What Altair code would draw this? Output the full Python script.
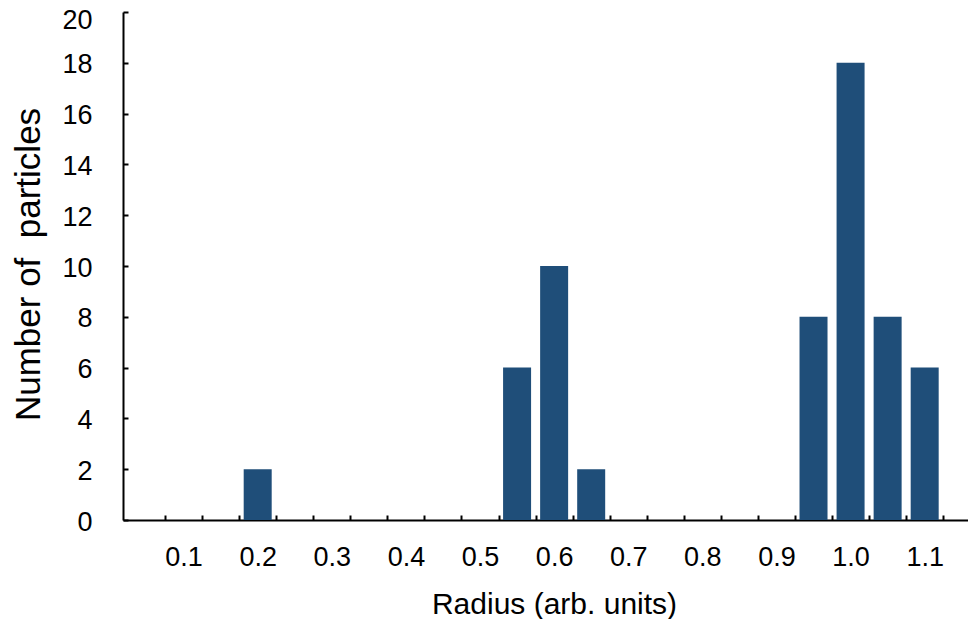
import altair as alt
import pandas as pd

# Histogram bins (bin centres, arb. units) and particle counts
radius = [0.05, 0.10, 0.15, 0.20, 0.25, 0.30, 0.35, 0.40, 0.45, 0.50, 0.55, 0.60,
          0.65, 0.70, 0.75, 0.80, 0.85, 0.90, 0.95, 1.00, 1.05, 1.10, 1.15]
counts = [0, 0, 0, 2, 0, 0, 0, 0, 0, 0, 6, 10,
          2, 0, 0, 0, 0, 0, 8, 18, 8, 6, 0]

# Axis tick positions: bin boundaries (ticks) and label positions
bin_edges = [0.075, 0.125, 0.175, 0.225, 0.275, 0.325, 0.375, 0.425, 0.475, 0.525, 0.575,
             0.625, 0.675, 0.725, 0.775, 0.825, 0.875, 0.925, 0.975, 1.025, 1.075, 1.125]
x_labels = [0.1, 0.2, 0.3, 0.4, 0.5, 0.6, 0.7, 0.8, 0.9, 1.0, 1.1]
y_ticks = [0, 2, 4, 6, 8, 10, 12, 14, 16, 18, 20]

df = pd.DataFrame({"radius": radius, "count": counts})

FONT = "Liberation Sans"

x_axis = alt.Axis(
    values=sorted(bin_edges + x_labels),
    labelExpr="round(datum.value*40) % 2 == 0 ? format(datum.value, '.1f') : ''",
    tickOpacity={"condition": {"test": "round(datum.value*40) % 2 == 1", "value": 1}, "value": 0},
    tickSize={"expr": "-5"},
    labelPadding=29,
    labelOverlap=False,
    labelFlush=False,
    labelBound=False,
    title="Radius (arb. units)",
    titleX=431,
    titleY=93,
    titleAlign="center",
    titleBaseline="alphabetic",
    titleFontSize=30,
    grid=False,
)

y_axis = alt.Axis(
    values=y_ticks,
    tickSize={"expr": "-5"},
    labelPadding=36,
    labelOffset={"condition": {"test": "datum.value == 20", "value": 8}, "value": 2},
    title="Number of \u00a0particles",
    titleX=-84,
    titleY=252,
    titleAngle=-90,
    titleAlign="center",
    titleBaseline="alphabetic",
    titleFontSize=35,
    grid=False,
)

chart = alt.Chart(df).mark_bar(width=28, color="#1f4e79").encode(
    x=alt.X("radius:Q", scale=alt.Scale(domain=[0.025, 1.1517], nice=False, zero=False), axis=x_axis),
    y=alt.Y("count:Q", scale=alt.Scale(domain=[0, 20], nice=False), axis=y_axis, stack=None),
).properties(
    width=845,
    height=508,
    autosize=alt.AutoSizeParams(type="none"),
    padding={"left": 115, "top": 4, "right": 0, "bottom": 99},
    background="white",
).configure_view(
    stroke=None
).configure_axis(
    labelFont=FONT,
    titleFont=FONT,
    labelFontSize=27,
    labelColor="black",
    titleColor="black",
    titleFontWeight="normal",
    domainColor="black",
    domainWidth=2,
    tickColor="black",
    tickWidth=2,
)

chart.save("out.html", embed_options={"renderer": "svg", "actions": False})
